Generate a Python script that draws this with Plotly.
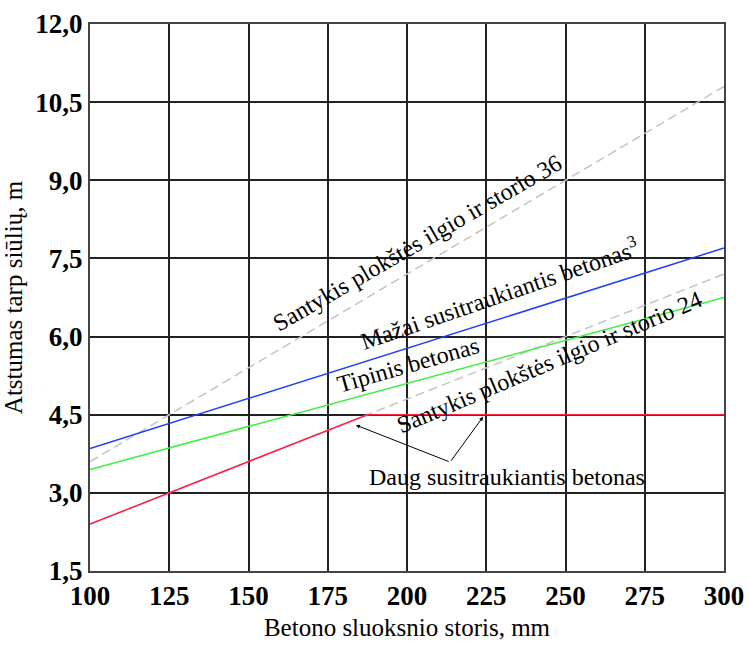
import plotly.graph_objects as go

# Slab thickness (mm) and joint spacing (m) for each curve
thickness = [100, 300]
low_shrinkage = [3.85, 7.70]       # Mažai susitraukiantis betonas
typical = [3.45, 6.75]             # Tipinis betonas
ratio_36 = [3.60, 10.80]           # length/thickness ratio 36
ratio_24 = [2.40, 7.20]            # length/thickness ratio 24
high_thickness = [100, 187.5, 300]
high_shrinkage = [2.40, 4.50, 4.50]  # Daug susitraukiantis betonas

x_ticks = [100, 125, 150, 175, 200, 225, 250, 275, 300]
y_ticks = [1.5, 3.0, 4.5, 6.0, 7.5, 9.0, 10.5, 12.0]
y_tick_text = ["1,5", "3,0", "4,5", "6,0", "7,5", "9,0", "10,5", "12,0"]

FONT = "Liberation Serif"

fig = go.Figure()
fig.add_trace(go.Scatter(x=thickness, y=ratio_36, mode="lines",
                         line=dict(color="#c4c4c4", width=1.5, dash="9px,5px")))
fig.add_trace(go.Scatter(x=thickness, y=ratio_24, mode="lines",
                         line=dict(color="#c4c4c4", width=1.5, dash="9px,5px")))
fig.add_trace(go.Scatter(x=thickness, y=low_shrinkage, mode="lines",
                         line=dict(color="#1f3dff", width=1.5)))
fig.add_trace(go.Scatter(x=thickness, y=typical, mode="lines",
                         line=dict(color="#3ef03e", width=1.5)))
fig.add_trace(go.Scatter(x=high_thickness, y=high_shrinkage, mode="lines",
                         line=dict(color="#ff2040", width=1.5)))

labels = [
    ("Santykis plokštės ilgio ir storio 36", 203.2, 7.80, -30),
    ("Mažai susitraukiantis betonas<sup>3</sup>", 229.0, 6.84, -19),
    ("Tipinis betonas", 200.3, 5.45, -16),
    ("Santykis plokštės ilgio ir storio 24", 245.1, 5.51, -23),
    ("Daug susitraukiantis betonas", 231.5, 3.30, 0),
]
for text, x, y, angle in labels:
    fig.add_annotation(x=x, y=y, text=text, showarrow=False, textangle=angle,
                       font=dict(family=FONT, size=24, color="black"))

# Pointers from the label to the bend of the red curve
for hx, hy in [(183.9, 4.30), (224.0, 4.46)]:
    fig.add_annotation(x=hx, y=hy, ax=213.6, ay=3.59, axref="x", ayref="y",
                       xref="x", yref="y", text="", showarrow=True,
                       arrowhead=2, arrowsize=0.8, arrowwidth=1, arrowcolor="black")

fig.update_layout(
    width=748, height=645,
    margin=dict(l=90, r=24, t=24, b=74),
    paper_bgcolor="white", plot_bgcolor="white",
    showlegend=False,
    font=dict(family=FONT, color="black"),
)
tick_font = dict(family=FONT, size=27, color="black", weight="bold")
fig.update_xaxes(
    range=[100, 300], tickvals=x_ticks, ticks="", automargin=False,
    showgrid=True, gridcolor="#222", gridwidth=1.5,
    showline=True, linecolor="#444", linewidth=2, mirror=True,
    zeroline=False, tickfont=tick_font,
    title=dict(text="Betono sluoksnio storis, mm",
               font=dict(family=FONT, size=25, color="black"), standoff=8),
)
fig.update_yaxes(
    range=[1.5, 12.0], tickvals=y_ticks, ticktext=y_tick_text, ticks="", automargin=False,
    showgrid=True, gridcolor="#222", gridwidth=1.5,
    showline=True, linecolor="#444", linewidth=2, mirror=True,
    zeroline=False, tickfont=tick_font,
    title=dict(text="Atstumas tarp siūlių, m",
               font=dict(family=FONT, size=25, color="black"), standoff=6),
)

fig.write_html("out.html")
